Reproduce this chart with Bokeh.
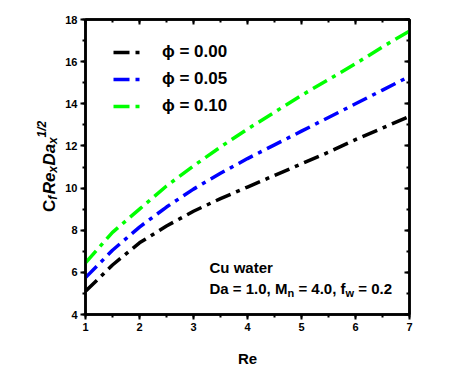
import math
from bokeh.plotting import figure
from bokeh.layouts import row
from bokeh.models import Range1d, LinearAxis, Label, Legend, LegendItem, SingleIntervalTicker
from bokeh.core.properties import value
from bokeh.embed import file_html
from bokeh.resources import INLINE

# ---- data ----
re_vals = [1.0, 1.5, 2.0, 2.5, 3.0, 3.5, 4.0, 4.5, 5.0, 5.5, 6.0, 6.5, 7.0]
cf_phi000 = [5.10, 6.35, 7.40, 8.20, 8.90, 9.50, 10.05, 10.60, 11.15, 11.70, 12.30, 12.85, 13.40]
cf_phi005 = [5.75, 7.05, 8.15, 9.10, 9.95, 10.70, 11.40, 12.05, 12.70, 13.35, 14.00, 14.65, 15.30]
cf_phi010 = [6.45, 7.90, 9.00, 10.10, 11.05, 11.95, 12.80, 13.60, 14.40, 15.15, 15.90, 16.70, 17.45]
series = [cf_phi000, cf_phi005, cf_phi010]
series_labels = ["ϕ = 0.00", "ϕ = 0.05", "ϕ = 0.10"]
series_colors = ["#000000", "#0000ff", "#00ff00"]
x_ticks = [1, 2, 3, 4, 5, 6, 7]
y_ticks = [4, 6, 8, 10, 12, 14, 16, 18]
note_line1 = "Cu water"

FONT = "Liberation Sans"
H = 369
LAB_W = 60
MAIN_LEFT = 25
FRAME_TOP, FRAME_BOTTOM = 19, 317

# ---- main plot ----
p = figure(width=475 - LAB_W, height=H, output_backend="svg", toolbar_location=None,
           x_range=Range1d(x_ticks[0], x_ticks[-1]), y_range=Range1d(y_ticks[0], y_ticks[-1]),
           min_border_left=MAIN_LEFT, min_border_right=475 - LAB_W - MAIN_LEFT - 324,
           min_border_top=FRAME_TOP, min_border_bottom=H - FRAME_BOTTOM,
           x_axis_label="Re")
p.xgrid.visible = False
p.ygrid.visible = False
p.outline_line_color = "black"
p.outline_line_width = 2.5
p.background_fill_color = "white"
p.border_fill_color = "white"

p.xaxis.ticker = SingleIntervalTicker(interval=1, num_minor_ticks=2)
p.yaxis.ticker = SingleIntervalTicker(interval=2, num_minor_ticks=2)


def style_axis(ax, inward):
    ax.axis_line_color = "black"
    ax.axis_line_width = 2.5
    ax.major_tick_line_color = "black"
    ax.minor_tick_line_color = "black"
    ax.major_tick_line_width = 2
    ax.minor_tick_line_width = 2
    if inward:
        ax.major_tick_in, ax.major_tick_out = 5, 0
        ax.minor_tick_in, ax.minor_tick_out = 3, 0
    else:
        ax.major_tick_in, ax.major_tick_out = 0, 5
        ax.minor_tick_in, ax.minor_tick_out = 0, 3
    ax.major_label_text_font = FONT
    ax.major_label_text_font_style = "bold"
    ax.major_label_text_font_size = "11px"
    ax.major_label_text_color = "black"


for ax in p.xaxis:
    style_axis(ax, False)
    ax.major_label_standoff = 3
    ax.axis_label_text_font = FONT
    ax.axis_label_text_font_style = "bold"
    ax.axis_label_text_font_size = "15px"
    ax.axis_label_text_color = "black"
    ax.axis_label_standoff = 16
for ax in p.yaxis:
    style_axis(ax, False)
    ax.major_label_standoff = 3

top_ax = LinearAxis(ticker=SingleIntervalTicker(interval=1, num_minor_ticks=2),
                    major_label_overrides={t: "" for t in x_ticks})
style_axis(top_ax, True)
top_ax.major_label_text_font_size = "1px"
top_ax.major_label_standoff = 0
p.add_layout(top_ax, "above")
right_ax = LinearAxis(ticker=SingleIntervalTicker(interval=2, num_minor_ticks=2),
                      major_label_overrides={t: "" for t in y_ticks})
style_axis(right_ax, True)
right_ax.major_label_text_font_size = "1px"
right_ax.major_label_standoff = 0
p.add_layout(right_ax, "right")

renderers = []
for vals, col in zip(series, series_colors):
    r = p.line(re_vals, vals, line_color=col, line_width=3.5, line_dash="16 6 4 6")
    renderers.append(r)

legend = Legend(items=[LegendItem(label=lab, renderers=[r]) for lab, r in zip(series_labels, renderers)],
                location=(28, 198), border_line_color=None, background_fill_alpha=0,
                label_text_font=FONT, label_text_font_style="bold", label_text_font_size="17px",
                label_text_color="black",
                glyph_width=32, glyph_height=20, label_height=20, label_standoff=17, spacing=7,
                padding=0, margin=0)
p.add_layout(legend)

# annotation text, anchored at the frame's lower-left corner
x0, y0 = x_ticks[0], y_ticks[0]
note = [  # text, size, x offset, y offset
    (note_line1, 15, 124, 47.5),
    ("Da = 1.0, M", 15, 124, 25.9),
    ("n", 11, 124 + 78.0, 21.4),
    ("= 4.0, f", 15, 124 + 88.9, 25.9),
    ("w", 11, 124 + 136.0, 21.4),
    ("= 0.2", 15, 124 + 148.8, 25.9),
]
for txt, sz, xo, yo in note:
    p.add_layout(Label(x=x0, y=y0, x_offset=xo, y_offset=yo, text=txt,
                       text_font=FONT, text_font_style="bold", text_font_size=f"{sz}px",
                       text_color="black", text_align="left", text_baseline="alphabetic"))

# ---- y axis title panel (rotated text with sub/superscripts) ----
# its frame is aligned with the main frame by the row layout; 1 unit = 1 px
lab = figure(width=LAB_W, height=H, output_backend="svg", toolbar_location=None,
             x_range=Range1d(0, LAB_W), y_range=Range1d(H - FRAME_BOTTOM, H - FRAME_TOP),
             x_axis_type=None, y_axis_type=None, min_border=0)
lab.xgrid.visible = False
lab.ygrid.visible = False
lab.outline_line_color = None
lab.background_fill_color = "white"
lab.border_fill_color = "white"

base_x, base_y = 48.7, H - 213.5
ylab = [  # text, style, size, offset along, baseline shift
    ("C", "bold", 17, 0, 0),
    ("f", "bold italic", 12, 12.5, 4),
    ("Re", "bold italic", 17, 18, 0),
    ("x", "bold italic", 12, 39.7, 4),
    ("Da", "bold italic", 17, 47, 0),
    ("x", "bold italic", 12, 68.7, 4),
    ("1/2", "bold italic", 12, 75.4, -7),
]
for txt, sty, sz, along, shift in ylab:
    lab.text(x=[base_x + shift], y=[base_y + along], text=[txt], angle=math.pi / 2,
             text_font=value(FONT), text_font_style=sty, text_font_size=f"{sz}px",
             text_color="black", text_align="left", text_baseline="alphabetic")

layout = row(lab, p, spacing=0)
open("out.html", "w").write(file_html(layout, INLINE))
